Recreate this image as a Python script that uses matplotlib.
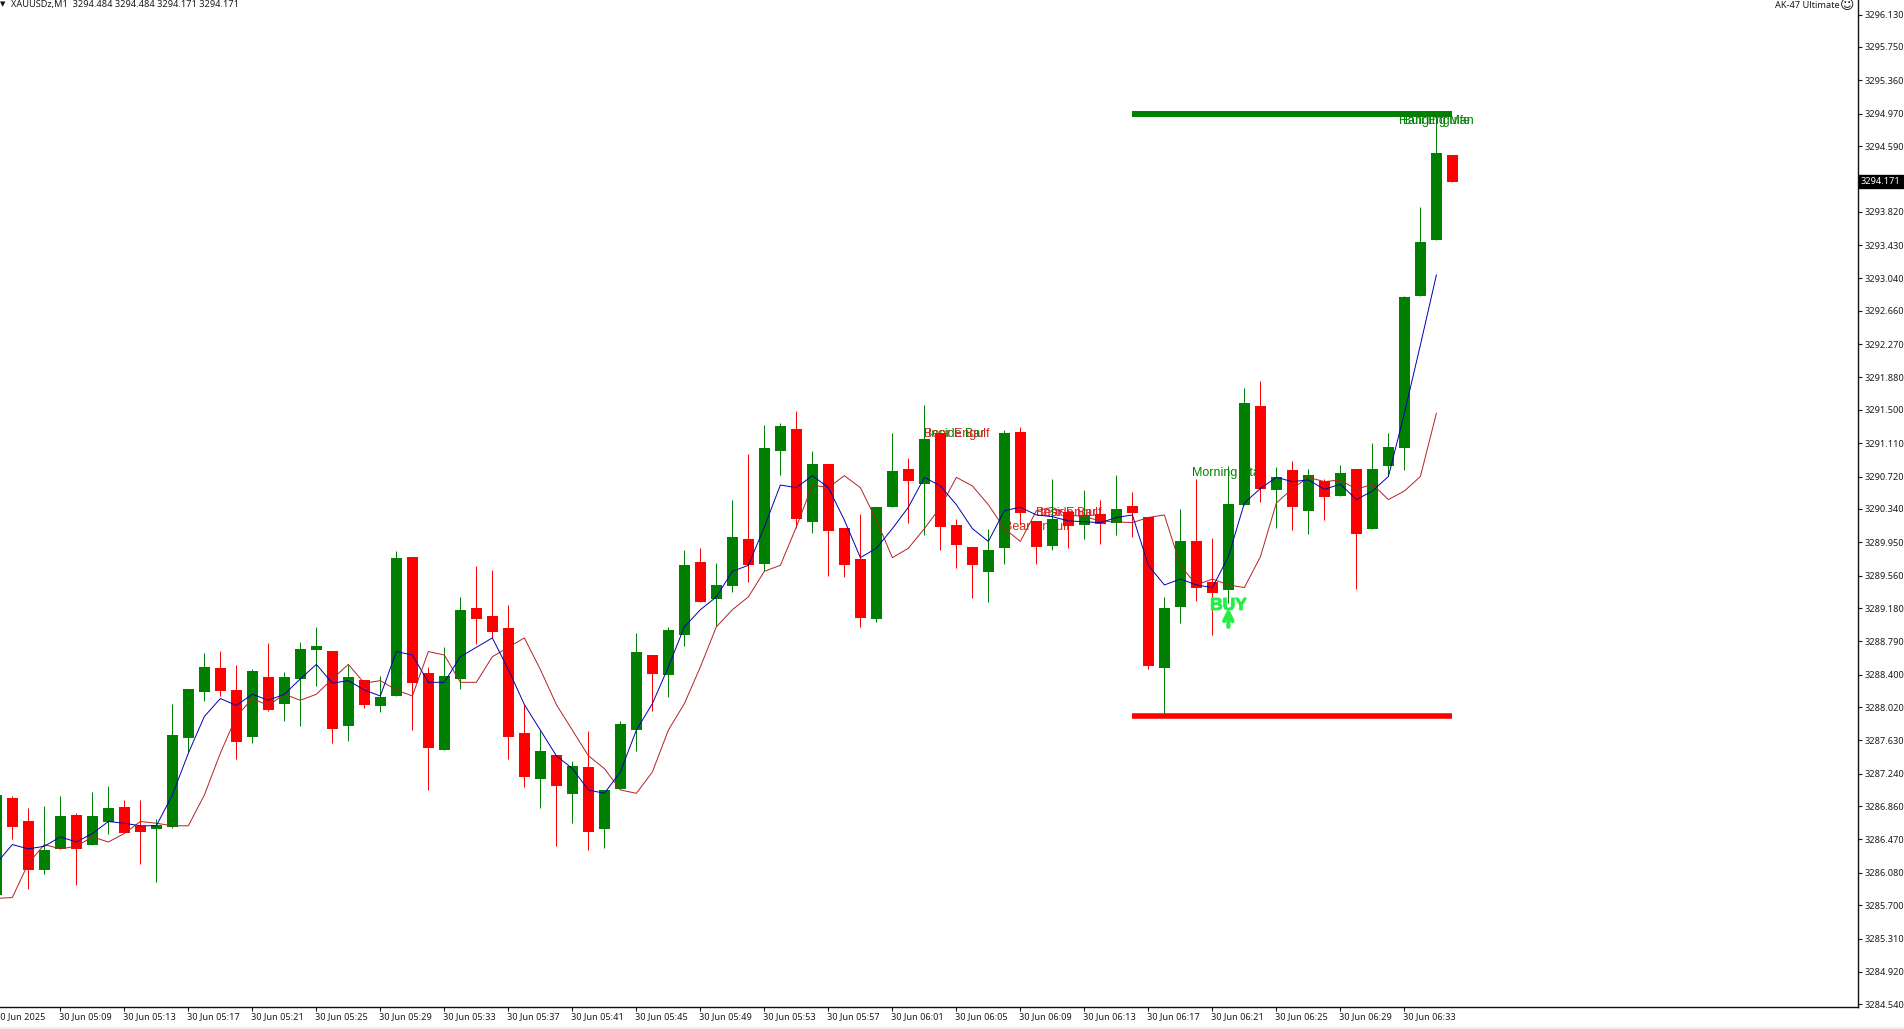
import matplotlib
matplotlib.use("Agg")
import matplotlib.pyplot as plt
import matplotlib.patheffects as pe
from matplotlib.patches import Rectangle
from matplotlib.transforms import ScaledTranslation

# XAUUSDz M1 candles, one per minute from 05:05
opens = [3285.82, 3286.96, 3286.69, 3286.11, 3286.36, 3286.76, 3286.40, 3286.68, 3286.85, 3286.63,
         3286.59, 3286.61, 3287.66, 3288.20, 3288.48, 3288.22, 3287.67, 3288.37, 3288.06, 3288.35,
         3288.69, 3288.68, 3287.80, 3288.34, 3288.03, 3288.15, 3289.78, 3288.42, 3287.52, 3288.35,
         3289.18, 3289.09, 3288.95, 3287.72, 3287.18, 3287.46, 3287.00, 3287.32, 3286.59, 3287.06,
         3287.75, 3288.63, 3288.40, 3288.86, 3289.72, 3289.29, 3289.44, 3289.99, 3289.70, 3291.02,
         3291.28, 3290.19, 3290.87, 3290.12, 3289.75, 3289.05, 3290.36, 3290.81, 3290.63, 3291.23,
         3290.15, 3289.90, 3289.60, 3289.88, 3291.24, 3290.20, 3289.91, 3290.31, 3290.15, 3290.28,
         3290.18, 3290.38, 3290.25, 3288.48, 3289.19, 3289.97, 3289.49, 3289.39, 3290.39, 3291.55,
         3290.56, 3290.80, 3290.32, 3290.67, 3290.49, 3290.81, 3290.11, 3290.84, 3291.05, 3292.83,
         3293.49, 3294.484]
highs = [3287.00, 3286.98, 3286.84, 3286.86, 3286.98, 3286.78, 3287.03, 3287.10, 3286.93, 3286.93,
         3286.71, 3288.06, 3288.23, 3288.65, 3288.68, 3288.51, 3288.47, 3288.77, 3288.43, 3288.78,
         3288.96, 3288.68, 3288.51, 3288.34, 3288.38, 3289.85, 3289.78, 3288.49, 3288.72, 3289.31,
         3289.67, 3289.63, 3289.22, 3288.05, 3287.75, 3287.46, 3287.39, 3287.74, 3287.05, 3287.86,
         3288.89, 3288.63, 3288.96, 3289.86, 3289.88, 3289.71, 3290.45, 3290.98, 3291.32, 3291.35,
         3291.49, 3291.02, 3290.87, 3290.12, 3290.28, 3290.36, 3291.23, 3290.94, 3291.56, 3291.23,
         3290.22, 3289.90, 3290.11, 3291.27, 3291.30, 3290.20, 3290.69, 3290.33, 3290.56, 3290.45,
         3290.74, 3290.54, 3290.25, 3289.31, 3290.34, 3290.69, 3290.00, 3290.84, 3291.76, 3291.84,
         3290.83, 3290.90, 3290.81, 3290.69, 3290.86, 3290.81, 3291.11, 3291.23, 3292.83, 3293.88,
         3294.94, 3294.484]
lows = [3285.80, 3286.48, 3285.89, 3286.07, 3286.36, 3285.94, 3286.40, 3286.53, 3286.55, 3286.18,
        3285.97, 3286.60, 3287.49, 3288.09, 3288.15, 3287.41, 3287.60, 3287.98, 3287.86, 3287.80,
        3288.27, 3287.60, 3287.62, 3288.01, 3287.96, 3288.15, 3287.75, 3287.05, 3287.52, 3288.23,
        3288.76, 3288.83, 3287.41, 3287.08, 3286.84, 3286.39, 3286.66, 3286.35, 3286.37, 3287.06,
        3287.50, 3287.98, 3288.14, 3288.74, 3289.25, 3288.97, 3289.37, 3289.49, 3289.61, 3290.74,
        3290.12, 3290.06, 3289.56, 3289.54, 3288.96, 3289.02, 3290.36, 3290.18, 3290.04, 3289.86,
        3289.65, 3289.30, 3289.25, 3289.70, 3290.15, 3289.70, 3289.86, 3289.88, 3289.99, 3289.93,
        3290.04, 3290.01, 3288.47, 3287.92, 3289.01, 3289.26, 3288.86, 3289.24, 3290.39, 3290.42,
        3290.12, 3290.09, 3290.05, 3290.21, 3290.49, 3289.40, 3290.11, 3290.73, 3290.80, 3292.83,
        3293.49, 3294.171]
closes = [3286.99, 3286.61, 3286.11, 3286.35, 3286.75, 3286.36, 3286.75, 3286.84, 3286.55, 3286.56,
          3286.60, 3287.69, 3288.23, 3288.49, 3288.21, 3287.61, 3288.44, 3287.99, 3288.37, 3288.70,
          3288.71, 3287.76, 3288.37, 3288.05, 3288.14, 3289.77, 3288.30, 3287.54, 3288.38, 3289.16,
          3289.05, 3288.90, 3287.67, 3287.20, 3287.50, 3287.10, 3287.33, 3286.56, 3287.05, 3287.82,
          3288.67, 3288.41, 3288.92, 3289.68, 3289.25, 3289.45, 3290.01, 3289.68, 3291.05, 3291.31,
          3290.22, 3290.87, 3290.08, 3289.68, 3289.06, 3290.36, 3290.79, 3290.67, 3291.16, 3290.13,
          3289.92, 3289.68, 3289.86, 3291.23, 3290.29, 3289.90, 3290.22, 3290.14, 3290.27, 3290.16,
          3290.34, 3290.29, 3288.50, 3289.18, 3289.97, 3289.41, 3289.36, 3290.40, 3291.58, 3290.57,
          3290.71, 3290.36, 3290.74, 3290.48, 3290.76, 3290.05, 3290.81, 3291.07, 3292.82, 3293.47,
          3294.51, 3294.171]

# blue and dark red moving averages
ma_fast = [3286.19, 3286.41, 3286.36, 3286.39, 3286.50, 3286.44, 3286.54, 3286.68, 3286.66, 3286.63,
           3286.63, 3286.99, 3287.48, 3287.91, 3288.12, 3288.04, 3288.17, 3288.10, 3288.17, 3288.35,
           3288.52, 3288.30, 3288.33, 3288.22, 3288.15, 3288.67, 3288.63, 3288.31, 3288.31, 3288.61,
           3288.72, 3288.83, 3288.46, 3288.05, 3287.75, 3287.45, 3287.30, 3287.05, 3287.01, 3287.26,
           3287.75, 3288.06, 3288.49, 3288.96, 3289.16, 3289.31, 3289.61, 3289.68, 3290.13, 3290.62,
           3290.59, 3290.73, 3290.59, 3290.21, 3289.77, 3289.88, 3290.11, 3290.36, 3290.71, 3290.61,
           3290.39, 3290.11, 3289.96, 3290.32, 3290.36, 3290.27, 3290.25, 3290.20, 3290.19, 3290.18,
           3290.24, 3290.27, 3289.68, 3289.45, 3289.52, 3289.45, 3289.42, 3289.78, 3290.41, 3290.58,
           3290.71, 3290.66, 3290.68, 3290.57, 3290.63, 3290.45, 3290.55, 3290.72, 3291.46, 3292.26,
           3293.08]
ma_slow = [3285.78, 3285.79, 3286.19, 3286.41, 3286.36, 3286.39, 3286.50, 3286.44, 3286.54, 3286.68,
           3286.66, 3286.63, 3286.63, 3286.99, 3287.48, 3287.91, 3288.12, 3288.04, 3288.17, 3288.10,
           3288.17, 3288.35, 3288.52, 3288.30, 3288.33, 3288.22, 3288.15, 3288.67, 3288.63, 3288.31,
           3288.31, 3288.61, 3288.72, 3288.83, 3288.46, 3288.05, 3287.75, 3287.45, 3287.30, 3287.05,
           3287.01, 3287.26, 3287.75, 3288.06, 3288.49, 3288.96, 3289.16, 3289.31, 3289.61, 3289.68,
           3290.13, 3290.62, 3290.59, 3290.73, 3290.59, 3290.21, 3289.77, 3289.88, 3290.11, 3290.36,
           3290.71, 3290.61, 3290.39, 3290.11, 3289.96, 3290.32, 3290.36, 3290.27, 3290.25, 3290.20,
           3290.19, 3290.18, 3290.24, 3290.27, 3289.68, 3289.45, 3289.52, 3289.45, 3289.42, 3289.78,
           3290.41, 3290.58, 3290.71, 3290.66, 3290.68, 3290.57, 3290.63, 3290.45, 3290.55, 3290.72,
           3291.46]

resistance = 3294.97
support = 3287.91
level_start = 71
level_end = 91
last_price = 3294.171

y_ticks = [3296.13, 3295.75, 3295.36, 3294.97, 3294.59, 3294.20, 3293.82, 3293.43, 3293.04, 3292.66,
           3292.27, 3291.88, 3291.50, 3291.11, 3290.72, 3290.34, 3289.95, 3289.56, 3289.18, 3288.79,
           3288.40, 3288.02, 3287.63, 3287.24, 3286.86, 3286.47, 3286.08, 3285.70, 3285.31, 3284.92,
           3284.54]

x_tick_pos = [4, 8, 12, 16, 20, 24, 28, 32, 36, 40, 44, 48, 52, 56, 60, 64, 68, 72, 76, 80, 84, 88]
x_tick_labels = ["30 Jun 05:09", "30 Jun 05:13", "30 Jun 05:17", "30 Jun 05:21",
                 "30 Jun 05:25", "30 Jun 05:29", "30 Jun 05:33", "30 Jun 05:37", "30 Jun 05:41",
                 "30 Jun 05:45", "30 Jun 05:49", "30 Jun 05:53", "30 Jun 05:57", "30 Jun 06:01",
                 "30 Jun 06:05", "30 Jun 06:09", "30 Jun 06:13", "30 Jun 06:17", "30 Jun 06:21",
                 "30 Jun 06:25", "30 Jun 06:29", "30 Jun 06:33"]
date_label = "30 Jun 2025"

# pattern labels: bar, price, text, colour
pattern_bars = [60, 60, 65, 67, 67, 77, 90, 90]
pattern_prices = [3291.22, 3291.22, 3290.13, 3290.29, 3290.29, 3290.76, 3294.88, 3294.88]
pattern_texts = ["Inside Bar", "Bear Engulf", "Bear Engulf", "Inside Bar", "Bear Engulf",
                 "Morning Star", "Hanging Man", "Bull Engulfe"]
pattern_colors = ["#008000", "#d92020", "#c83018", "#e02040", "#d92020",
                  "#008000", "#008000", "#108810"]

GREEN = "#008000"
RED = "#ff0000"
BUY_GREEN = "#22ee44"
UI_FONT = "Noto Sans"
UI_SIZE = 6.6
UI_COLOR = "#1a1a1a"
W, H = 1904, 1029

fig = plt.figure(figsize=(W / 100, H / 100), dpi=100, facecolor="white")
ax = fig.add_axes([0, (H - 1007) / H, 1858 / W, 1007 / H])

x = list(range(len(opens)))
colors = [GREEN if c >= o else RED for o, c in zip(opens, closes)]

# the labels sit behind the candles in the terminal
for bar, price, txt, col in zip(pattern_bars, pattern_prices, pattern_texts, pattern_colors):
    ax.text(bar, price, txt, color=col, fontsize=9.0, family="Liberation Sans",
            ha="center", va="center", zorder=1)

ax.vlines(x, lows, highs, colors=colors, linewidth=0.72, zorder=2)
body_low = [min(o, c) for o, c in zip(opens, closes)]
body_height = [max(abs(c - o), 0.045) for o, c in zip(opens, closes)]
ax.bar(x, body_height, bottom=body_low, width=11 / 16, color=colors, linewidth=0, zorder=2.1)

ax.plot(range(len(ma_slow)), ma_slow, color="#b22222", linewidth=0.7, zorder=3)
ax.plot(range(len(ma_fast)), ma_fast, color="#0000b0", linewidth=0.7, zorder=3.1)

ax.hlines(resistance, level_start, level_end, color=GREEN, linewidth=4.3, zorder=4)
ax.hlines(support, level_start, level_end, color=RED, linewidth=4.0, zorder=4)

# buy signal
ax.text(77, 3289.21, "BUY", color=BUY_GREEN, fontsize=12.5, fontweight="bold",
        family="Liberation Sans", ha="center", va="center", zorder=6,
        path_effects=[pe.withStroke(linewidth=0.7, foreground=BUY_GREEN)])
ax.annotate("", xy=(77, 3289.18), xytext=(77, 3288.96), zorder=6,
            arrowprops=dict(arrowstyle="->", color=BUY_GREEN, lw=3.0, mutation_scale=15,
                            shrinkA=0, shrinkB=0))

for side in ["top", "left"]:
    ax.spines[side].set_visible(False)
for side in ["right", "bottom"]:
    ax.spines[side].set_linewidth(1.0)
    ax.spines[side].set_color("#111111")

ax.yaxis.tick_right()
ax.set_yticks(y_ticks)
ax.set_yticklabels(["" if v == 3294.20 else f"{v:.3f}" for v in y_ticks],
                   fontsize=UI_SIZE, family=UI_FONT, color=UI_COLOR)
ax.tick_params(axis="y", direction="out", length=2.6, width=0.8, pad=2.4, color=UI_COLOR)

ax.set_xticks(x_tick_pos)
ax.set_xticklabels(x_tick_labels, fontsize=UI_SIZE, family=UI_FONT, color=UI_COLOR, ha="left")
ax.tick_params(axis="x", direction="out", length=2.6, width=0.8, pad=1.2, color=UI_COLOR)
shift = ScaledTranslation(-1 / 100, 0, fig.dpi_scale_trans)
for lab in ax.get_xticklabels():
    lab.set_transform(lab.get_transform() + shift)

# set_xticks can widen the view, so the limits come last
ax.set_xlim(0.229, 116.35)
ax.set_ylim(3284.508, 3296.30)

# first bar's tick falls off the left edge, its label is cut by the window
ax.annotate(date_label, xy=(0, 0), xycoords=ax.get_xaxis_transform(), xytext=(-0.7, -3.6),
            textcoords="offset points", fontsize=UI_SIZE, family=UI_FONT, color=UI_COLOR,
            ha="left", va="top", annotation_clip=False)

# last price box on the scale
ax.text(1861 / 1858, last_price, "3294.171", transform=ax.get_yaxis_transform(), color="white",
        fontsize=UI_SIZE, family=UI_FONT, ha="left", va="center", clip_on=False, zorder=10,
        bbox=dict(facecolor="black", edgecolor="black", boxstyle="square,pad=0.2"))

# header texts
fig.text(0 / W, 1 - 4 / H, "▼", fontsize=5, family="DejaVu Sans", color="#111111", va="center")
fig.text(11 / W, 1 - 4 / H, "XAUUSDz,M1  3294.484 3294.484 3294.171 3294.171",
         fontsize=UI_SIZE, family=UI_FONT, color=UI_COLOR, va="center")
fig.text(1840 / W, 1 - 5 / H, "AK-47 Ultimate", fontsize=UI_SIZE, family=UI_FONT,
         color=UI_COLOR, ha="right", va="center")
fig.text(1847 / W, 1 - 5 / H, "☺", fontsize=10, family="DejaVu Sans",
         color=UI_COLOR, ha="center", va="center")

# thin grey strip under the time scale
fig.add_artist(Rectangle((0, 0), 1, 2 / H, transform=fig.transFigure,
                         facecolor="#f0f0f0", edgecolor="none"))

fig.savefig("out.png", dpi=100, facecolor="white")
